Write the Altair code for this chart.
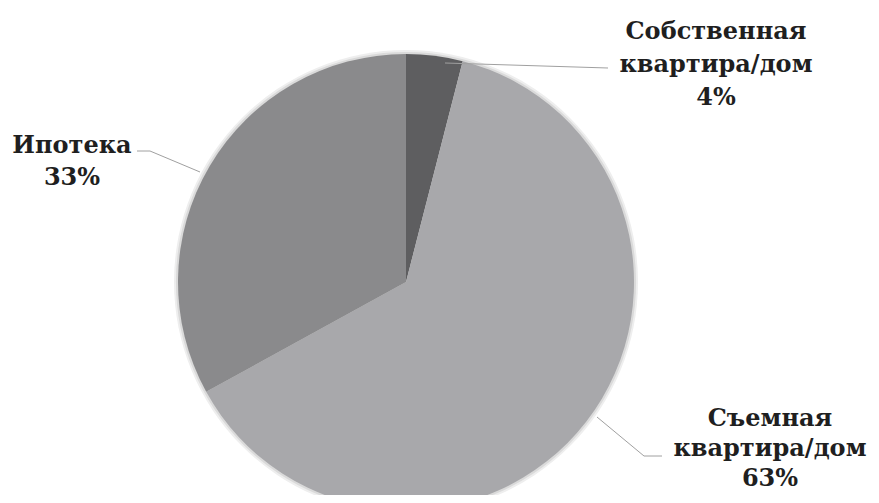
import altair as alt
import pandas as pd

# ---- data ----
categories = ["Собственная квартира/дом", "Съемная квартира/дом", "Ипотека"]
shares = [4, 63, 33]
label_lines = [
    ["Собственная", "квартира/дом", "4%"],
    ["Съемная", "квартира/дом", "63%"],
    ["Ипотека", "33%"],
]

# ---- style / layout ----
colors = ["#5e5e60", "#a8a8ab", "#8a8a8c"]
W, H = 863, 487
CX, CY, R = 398, 274, 228
label_x = [708, 762, 64]
label_y = [31, 418, 145]
label_lh = [33, 30, 32]
leader_segments = [  # x, y, x2, y2
    (437, 55, 600, 60),
    (589, 409, 636, 448),
    (636, 448, 654, 448),
    (129, 143, 142, 143),
    (142, 143, 192, 164),
]

df = pd.DataFrame({"cat": categories, "share": shares, "order": list(range(len(categories)))})

halo_df = pd.DataFrame({"v": [1]})
halo1 = alt.Chart(halo_df).mark_arc(radius=R + 4, x=CX, y=CY, color="#eeeeee").encode(
    theta=alt.value(0), theta2=alt.value(6.2832))
halo2 = alt.Chart(halo_df).mark_arc(radius=R + 2, x=CX, y=CY, color="#dadada").encode(
    theta=alt.value(0), theta2=alt.value(6.2832))

pie = alt.Chart(df).mark_arc(radius=R, x=CX, y=CY).encode(
    theta=alt.Theta("share:Q", stack=True),
    order=alt.Order("order:Q"),
    color=alt.Color("cat:N", scale=alt.Scale(domain=categories, range=colors), legend=None),
)

seg_df = pd.DataFrame(leader_segments, columns=["x", "y", "x2", "y2"])
leaders = alt.Chart(seg_df).mark_rule(color="#a0a0a0", strokeWidth=1).encode(
    x=alt.X("x:Q", scale=None),
    y=alt.Y("y:Q", scale=None),
    x2="x2:Q",
    y2="y2:Q",
)

label_layers = []
for lines, lx, ly, lh in zip(label_lines, label_x, label_y, label_lh):
    lab_df = pd.DataFrame({"text": ["\n".join(lines)], "x": [lx], "y": [ly]})
    label_layers.append(
        alt.Chart(lab_df).mark_text(
            font="DejaVu Serif", fontWeight="bold", fontSize=24, color="#1f1f1f",
            align="center", baseline="alphabetic", lineBreak="\n", lineHeight=lh,
        ).encode(
            x=alt.X("x:Q", scale=None),
            y=alt.Y("y:Q", scale=None),
            text="text:N",
        )
    )

chart = alt.layer(halo1, halo2, pie, leaders, *label_layers).properties(
    width=W, height=H, padding=0, autosize=alt.AutoSizeParams(type="none"),
).configure_view(stroke=None)

chart.save("out.html", embed_options={"renderer": "svg", "actions": False})
